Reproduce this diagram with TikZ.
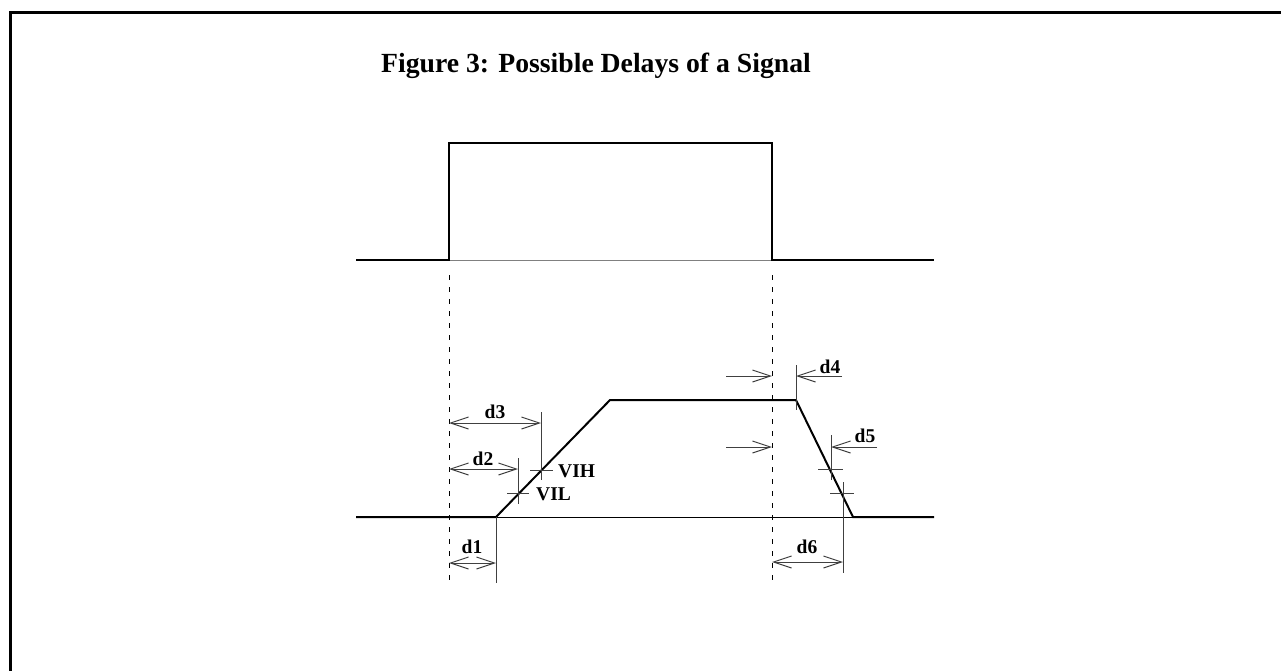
\documentclass[tikz,border=0pt]{standalone}
\usepackage{fontspec}
\setmainfont{Liberation Serif}
\usetikzlibrary{arrows.meta}

\begin{document}
\begin{tikzpicture}[x=1pt,y=-1pt,
      sig/.style={line width=2pt,line join=miter},
      thinline/.style={line width=1pt},
      guide/.style={line width=1pt,dash pattern=on 5pt off 7pt},
      tickline/.style={line width=1pt,gray!50!black},
      dim/.style={line width=1pt,gray!50!black,{Straight Barb[length=18pt,width=12pt]}-{Straight Barb[length=18pt,width=12pt]}},
      ptr/.style={line width=1pt,gray!50!black,-{Straight Barb[length=18pt,width=12pt]}},
      lbl/.style={font=\fontsize{19.5}{20}\selectfont\bfseries,inner sep=0pt,anchor=base}
      ]

      \useasboundingbox (0,0) rectangle (1281,670);

      % frame
      \draw[line width=3pt] (10,675) -- (10,12) -- (1285,12);

      \node[font=\fontsize{27.7}{28}\selectfont\bfseries,inner sep=0pt,anchor=base] (title) at (596,72)
        {Figure 3: Possible Delays of a Signal};

      % input signal
      \coordinate (inL) at (356,260);
      \coordinate (inR) at (934,260);
      \coordinate (up) at (449,260);
      \coordinate (down) at (772,260);
      \draw[thinline,gray] (up) -- (down);
      \draw[sig] (inL) -- (up) -- (449,143) -- (772,143) -- (down) -- (inR);

      % reference lines
      \draw[guide] (449,275) -- (449,585);
      \draw[guide] (772,275) -- (772,585);

      % output signal
      \coordinate (outL) at (356,517);
      \coordinate (outR) at (934,517);
      \coordinate (riseA) at (496,517);
      \coordinate (riseB) at (610,400);
      \coordinate (fallA) at (796,400);
      \coordinate (fallB) at (853,517);
      \draw[thinline] (riseA) -- (fallB);
      \draw[sig] (outL) -- (riseA) -- (riseB) -- (fallA) -- (fallB) -- (outR);

      % rising edge marks
      \draw[tickline] (496,517) -- (496,583);
      \draw[tickline] (518,458) -- (518,504);
      \draw[tickline] (507,493) -- (529,493);
      \draw[tickline] (541,412) -- (541,480);
      \draw[tickline] (530,470) -- (553,470);

      \draw[dim] (449,563) -- (496,563);
      \draw[dim] (449,469) -- (518,469);
      \draw[dim] (449,423) -- (541,423);

      \node[lbl] (d1) at (472,553) {d1};
      \node[lbl] (d2) at (483,465) {d2};
      \node[lbl] (d3) at (495,418) {d3};
      \node[lbl,anchor=base west] (vih) at (558,477) {VIH};
      \node[lbl,anchor=base west] (vil) at (536,500) {VIL};

      % falling edge marks
      \draw[tickline] (796,365) -- (796,410);
      \draw[tickline] (831,435) -- (831,480);
      \draw[tickline] (818,469) -- (843,469);
      \draw[tickline] (843,482) -- (843,573);
      \draw[tickline] (830,493) -- (854,493);

      \draw[ptr] (726,376) -- (772,376);
      \draw[ptr] (842,376) -- (796,376);
      \draw[ptr] (726,447) -- (772,447);
      \draw[ptr] (877,447) -- (831,447);
      \draw[dim] (772,562) -- (843,562);

      \node[lbl] (d4) at (830,373) {d4};
      \node[lbl] (d5) at (865,442) {d5};
      \node[lbl] (d6) at (807,553) {d6};

    \end{tikzpicture}
\end{document}
